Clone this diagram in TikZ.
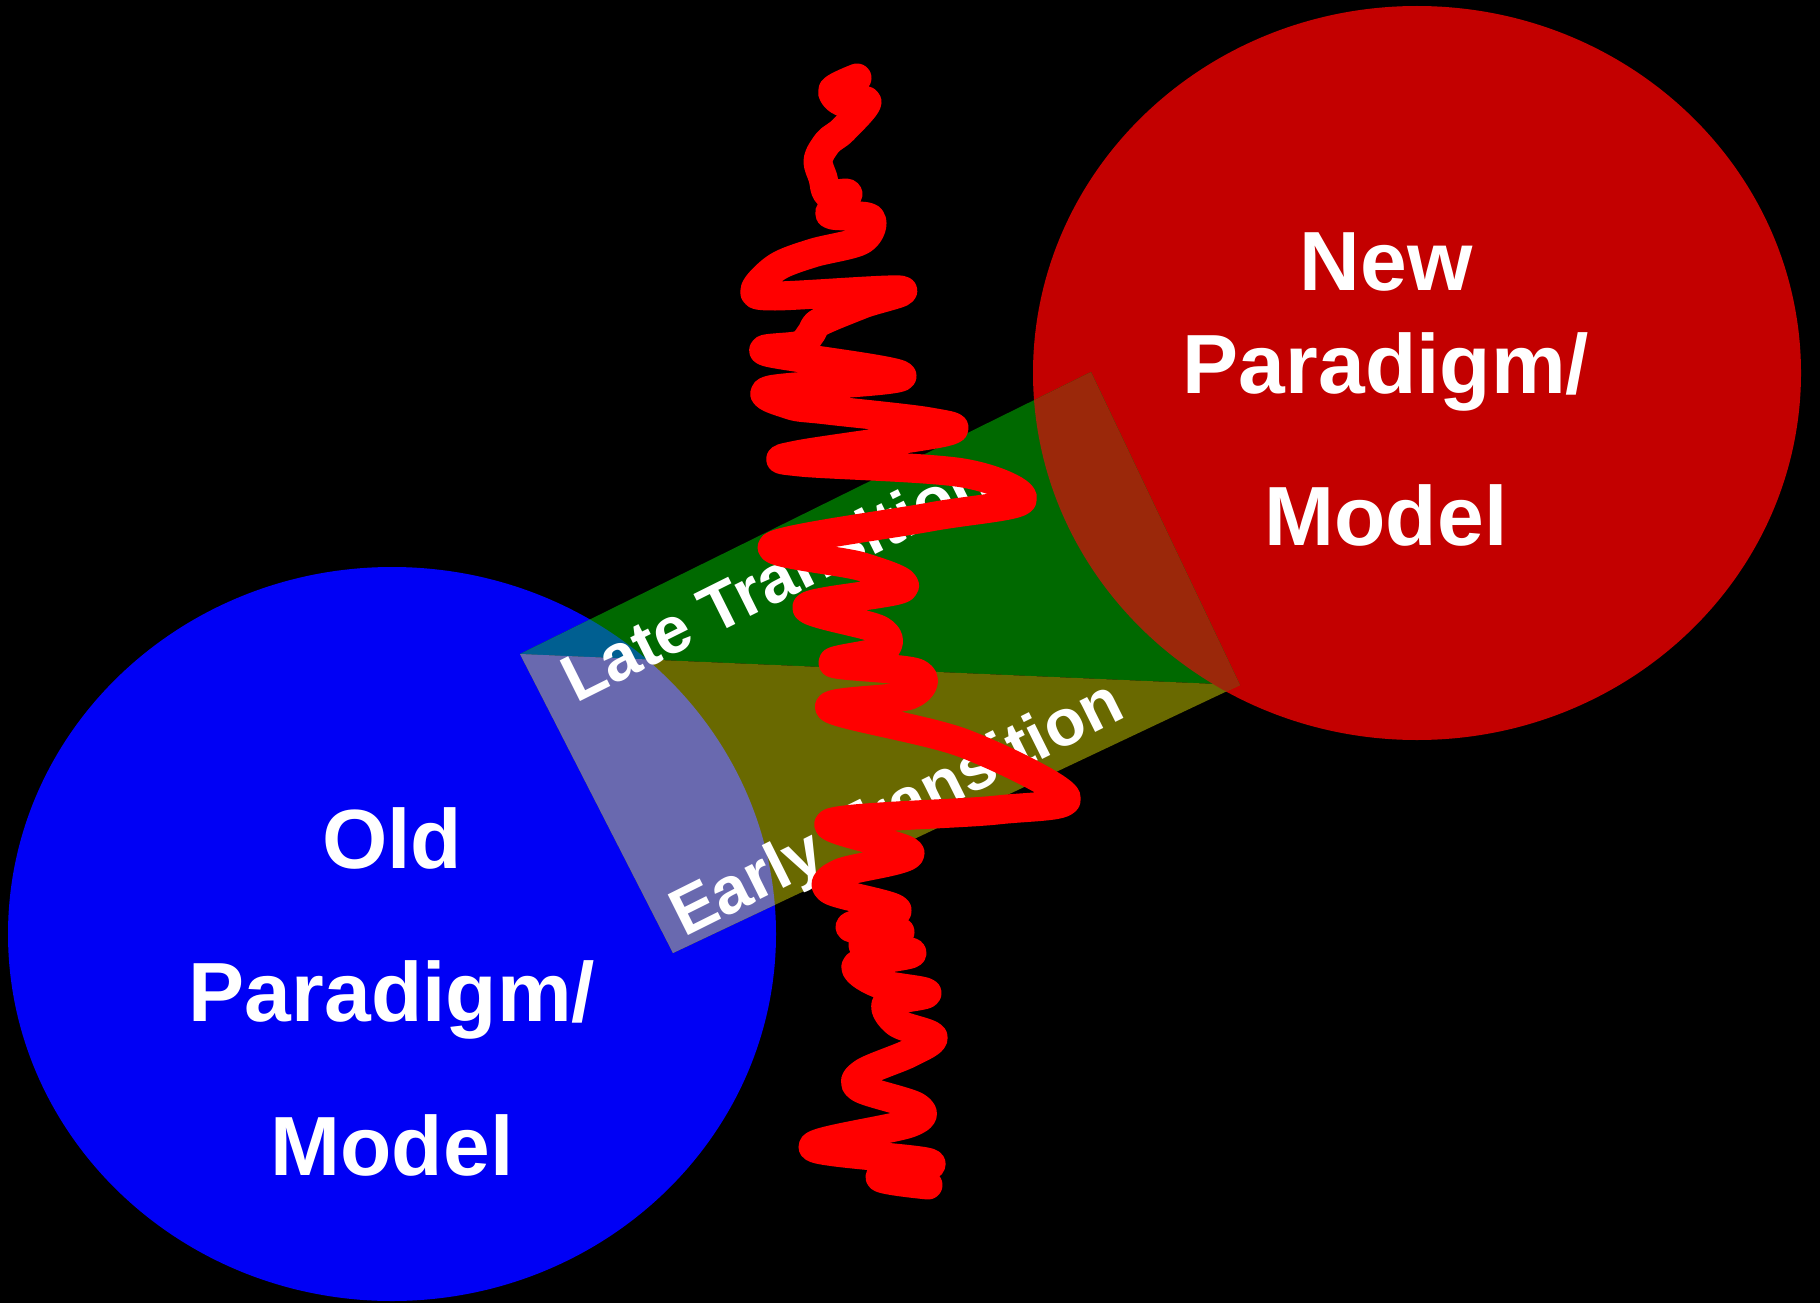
\documentclass[tikz,border=0pt]{standalone}
\usepackage{fontspec}
\setmainfont{Liberation Sans}
\definecolor{oldblue}{RGB}{0,0,245}
\definecolor{newred}{RGB}{195,0,0}
\definecolor{lategreen}{RGB}{0,105,0}
\definecolor{earlyolive}{RGB}{105,105,0}
\definecolor{lateonblue}{RGB}{0,95,145}
\definecolor{earlyonblue}{RGB}{105,105,175}
\definecolor{bandonred}{RGB}{155,40,10}
\definecolor{squigred}{RGB}{255,0,0}
\begin{document}
\begin{tikzpicture}[x=1pt,y=-1pt,
  biglabel/.style={text=white, font=\fontsize{84}{84}\selectfont\bfseries, anchor=base, inner sep=0pt},
  translabel/.style={text=white, font=\fontsize{66}{66}\selectfont\bfseries, anchor=base west, inner sep=0pt, rotate=26.5},
  squig/.style={draw=squigred, line width=29pt, line cap=round, line join=round}]
\useasboundingbox (0,0) rectangle (1820,1303);
\fill[black] (0,0) rectangle (1820,1303);
% band corners
\coordinate (p1) at (520,654);
\coordinate (p2) at (1091,372);
\coordinate (p3) at (1240,685);
\coordinate (p4) at (673,953);
\coordinate (oldc) at (392,934);
\coordinate (newc) at (1417,373);
% circles
\fill[oldblue] (oldc) ellipse [x radius=384pt, y radius=367pt];
\fill[newred] (newc) ellipse [x radius=384pt, y radius=367pt];
% band
\fill[lategreen] (p1) -- (p2) -- (p3) -- cycle;
\fill[earlyolive] (p1) -- (p3) -- (p4) -- cycle;
\begin{scope}
  \clip (oldc) ellipse [x radius=384pt, y radius=367pt];
  \fill[lateonblue] (p1) -- (p2) -- (p3) -- cycle;
  \fill[earlyonblue] (p1) -- (p3) -- (p4) -- cycle;
\end{scope}
\begin{scope}
  \clip (newc) ellipse [x radius=384pt, y radius=367pt];
  \fill[bandonred] (p1) -- (p2) -- (p3) -- (p4) -- cycle;
\end{scope}
% transition labels
\node[translabel] (late) at (576,704) {Late Transition};
\node[translabel] (early) at (684,938) {Early Transition};
% squiggle
\draw[squig] plot[smooth, tension=0.55] coordinates {
 (857,78) (833,90) (842,102) (867,102) (843,130) (828,142) (818,160) (823,178)
 (828,194) (848,194) (830,214) (870,218) (862,240) (813,253) (777,267) (755,290)
 (775,296) (900,290) (863,304) (820,322) (812,332) (800,345) (767,352) (902,376)
 (770,390) (790,405) (827,410) (930,422) (945,432) (797,455) (800,462) (963,473)
 (1022,500) (930,517) (773,546) (863,567) (903,588) (807,607) (880,630) (883,650)
 (833,663) (917,673) (910,695) (830,708) (963,743) (1066,797) (997,810) (830,823)
 (910,853) (840,873) (830,890) (897,910) (850,927) (900,932) (863,945) (912,953)
 (857,965) (877,983) (927,993) (887,1003) (897,1023) (933,1037) (910,1053) (863,1073)
 (860,1088) (917,1107) (910,1123) (813,1147) (930,1163) (880,1177) (928,1185)};
% big labels
\node[biglabel] (new1) at (1386,290) {New};
\node[biglabel] (new2) at (1386,393) {Paradigm/};
\node[biglabel] (new3) at (1386,545) {Model};
\node[biglabel] (old1) at (392,868) {Old};
\node[biglabel] (old2) at (392,1021) {Paradigm/};
\node[biglabel] (old3) at (392,1175) {Model};
\end{tikzpicture}
\end{document}
